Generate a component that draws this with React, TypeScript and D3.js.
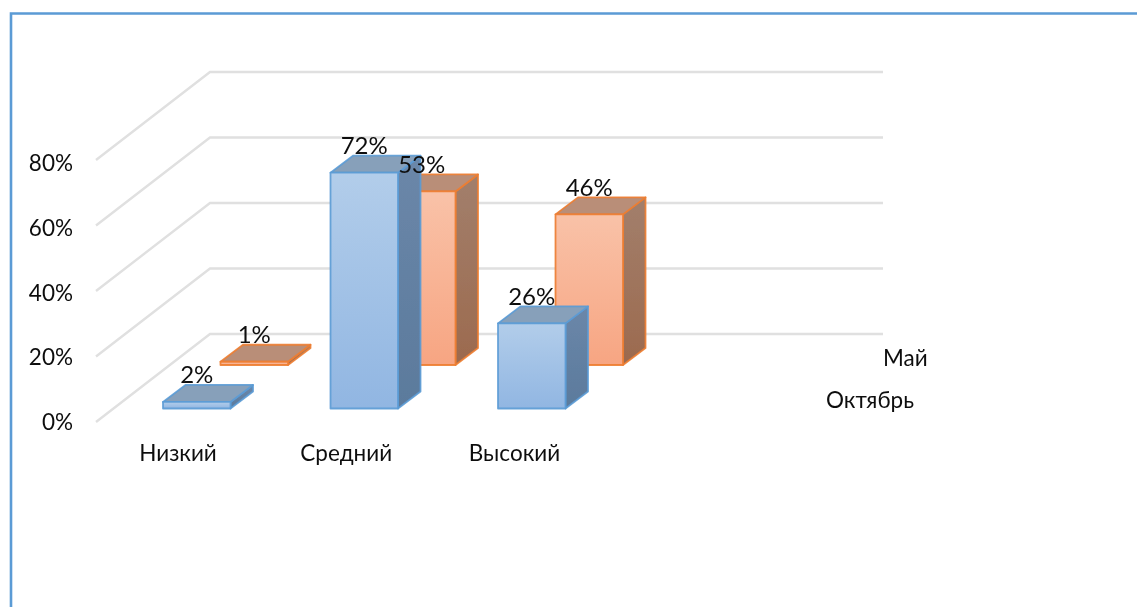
import React from "react";
import * as d3 from "d3";

const categories = ["Низкий", "Средний", "Высокий"];
const mayValues = [1, 53, 46];
const octoberValues = [2, 72, 26];
const yTicks = [0, 20, 40, 60, 80];
const seriesNames = ["Май", "Октябрь"];

const W = 1137, H = 607;
const FONT = "Lato, Carlito, 'Open Sans', sans-serif";
const BLUE = "#5b9bd5", ORANGE = "#ed7d31";

// oblique projection: series depth shifts marks right and up
const unit = d3.scaleLinear().domain([0, 80]).range([0, 262]);
const yFront = (v: number) => 422 - unit(v);
const yTickLabel = d3.scaleLinear().domain([0, 80]).range([421.5, 162.5]);
const xCat = d3.scalePoint<string>().domain(categories).range([163, 498]);
const xLabel = d3.scalePoint<string>().domain(categories).range([178, 514.5]);
const barW = 67.5, dx = 22.5, dy = 17;

type BarProps = { x: number; base: number; v: number; id: string; stroke: string; top: string };
function Bar({ x, base, v, id, stroke, top }: BarProps) {
  const h = unit(v);
  const t = base - h;
  return (
    <g stroke={stroke} strokeWidth={1.8} strokeLinejoin="round" strokeOpacity={0.9}>
      <path d={`M${x + barW},${t}L${x + barW + dx},${t - dy}V${base - dy}L${x + barW},${base}Z`} fill={`url(#${id}Side)`} />
      <path d={`M${x},${t}L${x + dx},${t - dy}H${x + barW + dx}L${x + barW},${t}Z`} fill={top} />
      <rect x={x} y={t} width={barW} height={h} fill={`url(#${id}Front)`} />
    </g>
  );
}

function Grad({ id, a, b }: { id: string; a: string; b: string }) {
  return (
    <linearGradient id={id} x1="0" y1="0" x2="0" y2="1">
      <stop offset="0" stopColor={a} />
      <stop offset="1" stopColor={b} />
    </linearGradient>
  );
}

export default function App() {
  const text = { fontFamily: FONT, fontSize: 22.5, fill: "#111" } as const;
  const dataText = { fontFamily: FONT, fontSize: 24, fill: "#111" } as const;
  return (
    <svg width={W} height={H} style={{ position: "absolute", left: 0, top: 0 }}>
      <defs>
        <Grad id="bFront" a="#b2cdea" b="#91b6e2" />
        <Grad id="bSide" a="#6b87a9" b="#5b7a9c" />
        <Grad id="oFront" a="#f9c2a8" b="#f7a582" />
        <Grad id="oSide" a="#a27f6c" b="#9c6a4e" />
        <filter id="soft"><feGaussianBlur stdDeviation="0.55" /></filter>
      </defs>
      <rect width={W} height={H} fill="#fff" />
      <path d={`M11,${H}V13.5H${W}`} fill="none" stroke={BLUE} strokeWidth={2.6} />
      <g filter="url(#soft)">
        {yTicks.map((t) => (
          <polyline key={t} fill="none" stroke="#e0e0e0" strokeWidth={2.4}
            points={`96,${yFront(t)} 210,${yFront(t) - 88} 883,${yFront(t) - 88}`} />
        ))}
        {categories.map((c, i) => (
          <Bar key={"m" + c} x={xCat(c)! + 57.5} base={365} v={mayValues[i]} id="o" stroke={ORANGE} top="#b98e78" />
        ))}
        {categories.map((c, i) => (
          <Bar key={"o" + c} x={xCat(c)!} base={408.5} v={octoberValues[i]} id="b" stroke={BLUE} top="#87a0ba" />
        ))}
        {yTicks.map((t) => (
          <text key={t} {...text} x={73} y={yTickLabel(t)} textAnchor="end" dominantBaseline="central">{t}%</text>
        ))}
        {categories.map((c, i) => (
          <React.Fragment key={c}>
            <text {...text} x={xLabel(c)!} y={452} textAnchor="middle" dominantBaseline="central">{c}</text>
            <text {...dataText} x={xCat(c)! + 57.5 + barW / 2} y={365 - unit(mayValues[i]) - 28} textAnchor="middle" dominantBaseline="central">{mayValues[i]}%</text>
            <text {...dataText} x={xCat(c)! + barW / 2} y={408.5 - unit(octoberValues[i]) - 28} textAnchor="middle" dominantBaseline="central">{octoberValues[i]}%</text>
          </React.Fragment>
        ))}
        <text {...text} x={883} y={357} dominantBaseline="central">{seriesNames[0]}</text>
        <text {...text} x={826} y={399.5} dominantBaseline="central">{seriesNames[1]}</text>
      </g>
    </svg>
  );
}
